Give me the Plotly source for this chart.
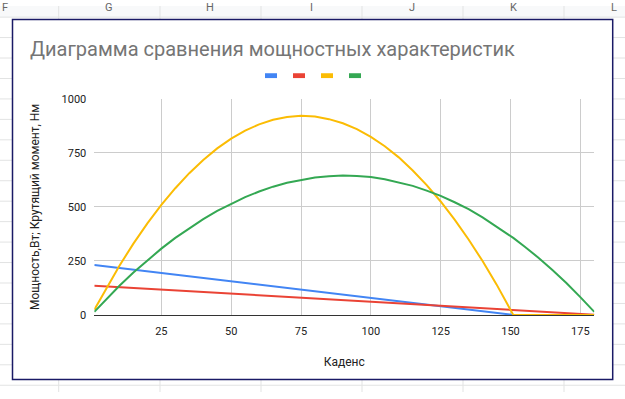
import plotly.graph_objects as go

# ---- data ----
cadence = [1, 5, 10, 15, 20, 25, 30, 35, 40, 45, 50, 55, 60, 65, 70, 75, 80, 85, 90,
           95, 100, 105, 110, 115, 120, 125, 130, 135, 140, 145, 150, 151, 155, 160,
           165, 170, 175, 180]
series_blue = [231.5, 225.3, 217.6, 209.9, 202.1, 194.4, 186.7, 179.0, 171.3, 163.6,
               155.8, 148.1, 140.4, 132.7, 125.0, 117.3, 109.6, 101.8, 94.1, 86.4,
               78.7, 71.0, 63.3, 55.5, 47.8, 40.1, 32.4, 24.7, 17.0, 9.3, 1.5, 0,
               0, 0, 0, 0, 0, 0]
series_red = [135.2, 132.2, 128.5, 124.7, 121.0, 117.2, 113.5, 109.7, 105.9, 102.2,
              98.4, 94.7, 90.9, 87.2, 83.4, 79.6, 75.9, 72.1, 68.4, 64.6,
              60.9, 57.1, 53.3, 49.6, 45.8, 42.1, 38.3, 34.6, 30.8, 27.0, 23.3, 22.5,
              19.5, 15.8, 12.0, 8.3, 4.5, 0.75]
series_yellow = [24.2, 117.9, 227.9, 329.7, 423.3, 508.9, 586.5, 656.1, 717.5, 770.9,
                 815.8, 853.0, 882.2, 903.3, 916.3, 921.3, 918.2, 906.1, 886.9, 859.6,
                 824.1, 780.7, 729.2, 668.4, 600.7, 524.9, 441.1, 349.2, 249.2, 141.2,
                 24.2, 0, 0, 0, 0, 0, 0, 0]
series_green = [14.2, 69.2, 134.6, 195.9, 253.4, 306.8, 356.6, 402.1, 443.6, 481.6,
                515.2, 545.4, 571.1, 593.6, 611.4, 625.2, 635.9, 641.8, 644.7, 642.7,
                637.8, 627.8, 614.0, 597.3, 575.5, 551.1, 521.4, 489.2, 451.6, 410.0,
                366.0, 356.4, 316.4, 264.7, 207.3, 147.8, 82.5, 14.1]

x_ticks = [25, 50, 75, 100, 125, 150, 175]
y_ticks = [0, 250, 500, 750, 1000]

title_text = "Диаграмма сравнения мощностных характеристик"
x_title = "Каденс"
y_title = "Мощность,Вт; Крутящий момент, Нм"

sheet_columns = ["F", "G", "H", "I", "J", "K", "L"]

series = [series_blue, series_red, series_yellow, series_green]
colors = ["#4285F4", "#EA4335", "#FBBC04", "#34A853"]

W, H = 625, 399


def px(x):
    return x / W


def py(y):
    return 1 - y / H


fig = go.Figure()
for vals, col in zip(series, colors):
    fig.add_trace(go.Scatter(x=cadence, y=vals, mode="lines",
                             line=dict(color=col, width=2),
                             showlegend=False, name=""))

shapes = []
# spreadsheet background: header row, row lines and column lines
shapes.append(dict(type="rect", xref="paper", yref="paper", x0=0, x1=1,
                   y0=py(11.5), y1=1, fillcolor="#f8f9fa", line=dict(width=0),
                   layer="below"))
for k in range(19):
    yy = 11.5 + 21.14 * k
    shapes.append(dict(type="line", xref="paper", yref="paper", x0=0, x1=1,
                       y0=py(yy), y1=py(yy), line=dict(color="#e2e3e3", width=1),
                       layer="below"))
col_lines = [58.7, 160, 261, 362, 463, 564]
for cx in col_lines:
    shapes.append(dict(type="line", xref="paper", yref="paper", x0=px(cx), x1=px(cx),
                       y0=0, y1=1, line=dict(color="#e2e3e3", width=1),
                       layer="below"))
# chart box
shapes.append(dict(type="rect", xref="paper", yref="paper", x0=px(12.5), x1=px(612.7),
                   y0=py(386), y1=py(14), fillcolor="white",
                   line=dict(color="#1a1a66", width=1.5), layer="below"))
# legend swatches
legend_x = [265, 293, 321, 349]
for lx, col in zip(legend_x, colors):
    shapes.append(dict(type="rect", xref="paper", yref="paper", x0=px(lx), x1=px(lx + 12),
                       y0=py(74.5), y1=py(69.5), fillcolor=col, line=dict(width=0)))

annotations = []
col_centers = [5, 109, 210, 311, 412, 513, 614]
for name, cx in zip(sheet_columns, col_centers):
    annotations.append(dict(text=name, xref="paper", yref="paper", x=px(cx), y=py(1.5),
                            xanchor="center", yanchor="middle", showarrow=False,
                            font=dict(family="Roboto, Arial", size=11, color="#666666")))

fig.update_layout(
    width=W, height=H,
    margin=dict(l=0, r=0, t=0, b=0),
    paper_bgcolor="white",
    plot_bgcolor="rgba(0,0,0,0)",
    shapes=shapes,
    annotations=annotations,
    hovermode=False,
    title=dict(text=title_text, x=px(30), xanchor="left", y=py(44), yanchor="middle",
               xref="paper", yref="paper",
               font=dict(family="Roboto, Arial", size=20, color="#757575")),
    xaxis=dict(domain=[px(94.3), px(594.3)], range=[1, 180], tickvals=x_ticks,
               showgrid=True, gridcolor="#cccccc", gridwidth=1, zeroline=False,
               showline=True, linecolor="#333333", linewidth=1, ticks="",
               ticklabelstandoff=6,
               tickfont=dict(family="Roboto, Arial", size=11, color="#222222"),
               title=dict(text=x_title, standoff=20,
                          font=dict(family="Roboto, Arial", size=12, color="#222222"))),
    yaxis=dict(domain=[py(319.3), py(96)], range=[0, 1000], tickvals=y_ticks,
               showgrid=True, gridcolor="#cccccc", gridwidth=1, zeroline=False,
               showline=False, ticks="", ticklabelstandoff=7,
               tickfont=dict(family="Roboto, Arial", size=11, color="#222222"),
               title=dict(text=y_title, standoff=19,
                          font=dict(family="Roboto, Arial", size=12, color="#222222"))),
)

fig.write_html("out.html",
               config={"displayModeBar": False, "staticPlot": True},
               post_script="document.body.style.margin='0';document.body.style.overflow='hidden';")
